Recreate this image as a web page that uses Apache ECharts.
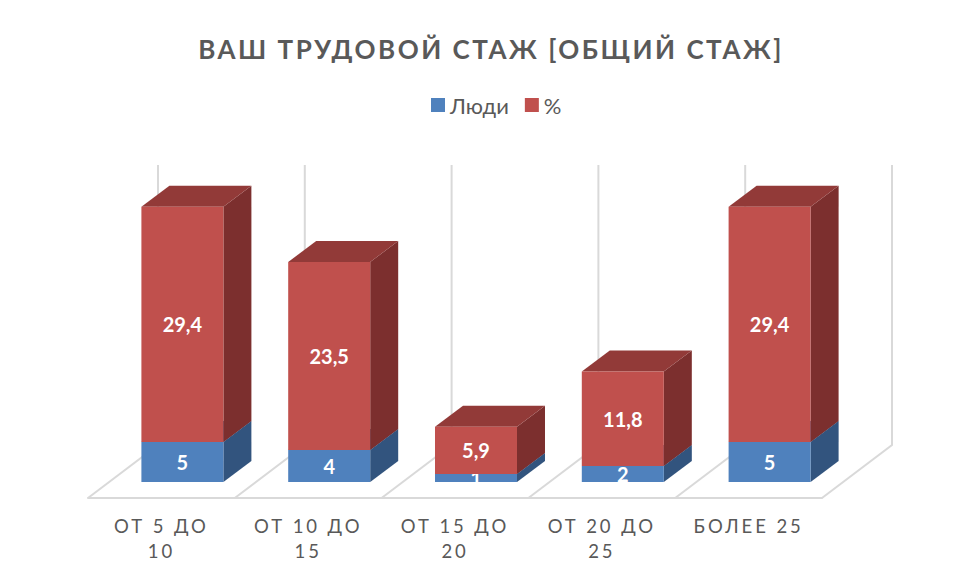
<!DOCTYPE html>
<html>
<head>
<meta charset="utf-8">
<script src="https://cdn.jsdelivr.net/npm/echarts@6/dist/echarts.min.js"></script>
<style>
html,body{margin:0;padding:0;background:#fff}
#c{width:956px;height:580px}
svg text[style*="26px"]{letter-spacing:2.5px}
svg text[style*="18.5px"]{letter-spacing:2.9px}
</style>
</head>
<body>
<div id="c"></div>
<script>
const titleText = 'ВАШ ТРУДОВОЙ СТАЖ [ОБЩИЙ СТАЖ]';
const categories = ['ОТ 5 ДО\n10', 'ОТ 10 ДО\n15', 'ОТ 15 ДО\n20', 'ОТ 20 ДО\n25', 'БОЛЕЕ 25'];
const people = [5, 4, 1, 2, 5];
const percent = [29.4, 23.5, 5.9, 11.8, 29.4];
const FONT = 'Lato, "Open Sans", sans-serif';

const BAR_SHIFT = [21, -16], BAR_DEPTH = [28, -21], WALL_DEPTH = [70, -53], WALL_UNITS = 35, BAR_RATIO = 0.5586;

function barItem(front, side, top) {
  return function (params, api) {
    const i = api.value(0), lo = api.value(1), v = api.value(2);
    const base = api.coord([i, lo]), head = api.coord([i, lo + v]);
    const w = api.size([1, 0])[0] * BAR_RATIO;
    const x0 = base[0] + BAR_SHIFT[0] - w / 2, x1 = x0 + w;
    const yb = base[1] + BAR_SHIFT[1], yt = head[1] + BAR_SHIFT[1];
    const dx = BAR_DEPTH[0], dy = BAR_DEPTH[1];
    return {
      type: 'group',
      children: [
        { type: 'polygon', shape: { points: [[x1, yb], [x1 + dx, yb + dy], [x1 + dx, yt + dy], [x1, yt]] }, style: { fill: side } },
        { type: 'polygon', shape: { points: [[x0, yt], [x0 + dx, yt + dy], [x1 + dx, yt + dy], [x1, yt]] }, style: { fill: top } },
        { type: 'rect', shape: { x: x0, y: yt, width: w, height: yb - yt }, style: { fill: front } },
        { type: 'text', z2: 100, style: {
            x: (x0 + x1) / 2, y: (yt + yb) / 2, text: String(v).replace('.', ','),
            fill: '#fff', font: 'bold 20px ' + FONT, align: 'center', verticalAlign: 'middle'
        } }
      ]
    };
  };
}

function frameItem(params, api) {
  const i = api.value(0);
  const p = api.coord([i, 0]);
  const x = p[0] - api.size([1, 0])[0] / 2, y = p[1];
  const bx = x + WALL_DEPTH[0], by = y + WALL_DEPTH[1];
  const style = { stroke: '#d9d9d9', lineWidth: 2, fill: 'none' };
  return {
    type: 'polyline',
    shape: { points: [[x, y], [bx, by], [bx, by - api.size([0, WALL_UNITS])[1]]] },
    style
  };
}

const frameData = categories.map((c, i) => [i]).concat([[categories.length]]);

const chart = echarts.init(document.getElementById('c'), null, { renderer: 'svg' });
chart.setOption({
  animation: false,
  backgroundColor: '#fff',
  title: {
    text: titleText, left: 486, top: 31, textAlign: 'center',
    textStyle: { fontFamily: FONT, fontSize: 26, fontWeight: 'bold', color: '#595959' }
  },
  legend: {
    data: ['Люди', '%'], left: 426, top: 89, icon: 'rect', itemWidth: 14, itemHeight: 14, itemGap: 16,
    textStyle: { fontFamily: FONT, fontSize: 22, color: '#595959', padding: [0, 0, 0, 0] }
  },
  grid: { left: 88, width: 734, top: 178, height: 320 },
  xAxis: {
    type: 'category', data: categories, boundaryGap: true,
    axisLine: { show: true, lineStyle: { color: '#d9d9d9', width: 2 } },
    axisTick: { show: false },
    axisLabel: { interval: 0, margin: 15, fontFamily: FONT, fontSize: 18.5, color: '#595959', lineHeight: 25 }
  },
  yAxis: { type: 'value', min: 0, max: 40, show: false, splitLine: { show: false } },
  series: [
    { type: 'custom', name: 'frame', silent: true, z: 1, renderItem: frameItem, data: frameData, clip: false },
    { type: 'custom', name: 'Люди', z: 2, itemStyle: { color: '#4f81bd' },
      renderItem: barItem('#4f81bd', '#32547e', '#3f6897'), clip: false,
      data: people.map((v, i) => [i, 0, v]) },
    { type: 'custom', name: '%', z: 3, itemStyle: { color: '#c0504d' },
      renderItem: barItem('#c0504d', '#7c2f2e', '#923a38'), clip: false,
      data: percent.map((v, i) => [i, people[i], v]) }
  ]
});
</script>
</body>
</html>
